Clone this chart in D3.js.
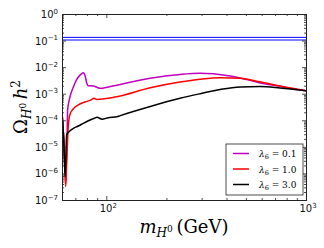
<!DOCTYPE html>
<html>
<head>
<meta charset="utf-8">
<script src="https://cdn.jsdelivr.net/npm/d3@7"></script>
<style>
  body { margin: 0; background: #fff; }
  svg { display: block; }
</style>
</head>
<body>
<script>
var width = 324;
var height = 248;
var plot = {left: 62, top: 14, right: 306, bottom: 200};

// relic density curves: [mass GeV, Omega h^2]
var lam01 = [[60.2, 1.5e-4], [61.2, 2e-5], [62.2, 1.5e-6], [62.6, 4e-7], [63.2, 4e-6], [63.7, 4e-5],
    [64.0, 2.4e-4], [65.8, 7.7e-4], [68.4, 1.8e-3], [71.0, 3.4e-3], [73.9, 5.0e-3], [76.7, 6.2e-3],
    [78.2, 5.0e-3], [79.7, 2.6e-3], [81.3, 2.0e-3], [86.1, 1.95e-3], [89.8, 1.74e-3], [93.3, 1.6e-3],
    [102.3, 1.8e-3], [113, 2.1e-3], [166, 3.8e-3], [234, 5.3e-3], [295, 5.9e-3], [343, 5.6e-3],
    [417, 4.6e-3], [505, 3.4e-3], [610, 2.4e-3], [741, 1.9e-3], [861, 1.5e-3], [1000, 1.3e-3]];
var lam10 = [[60.2, 1.4e-4], [61.2, 2e-5], [62.0, 1.5e-6], [62.6, 3.2e-7], [63.3, 2.5e-6], [64.6, 7e-5],
    [65.8, 1.7e-4], [68.4, 2.7e-4], [72.4, 3.8e-4], [78.2, 4.9e-4], [84.4, 6.0e-4], [86.6, 6.8e-4],
    [90, 6.1e-4], [93.3, 6.2e-4], [102.3, 6.7e-4], [113, 7.7e-4], [166, 1.67e-3], [234, 2.75e-3],
    [295, 3.5e-3], [372, 4.0e-3], [468, 3.8e-3], [589, 2.8e-3], [741, 1.95e-3], [1000, 1.3e-3]];
var lam30 = [[60.2, 1.3e-4], [61.2, 2e-5], [62.2, 7.4e-7], [63.3, 2.8e-5], [64.0, 3.3e-5], [65, 3.7e-5],
    [68.4, 5.0e-5], [72.4, 6.1e-5], [76.7, 7.7e-5], [81.3, 9.6e-5], [87.1, 1.19e-4], [89.8, 1.29e-4],
    [95.2, 1.1e-4], [102.3, 1.25e-4], [113, 1.36e-4], [117.5, 1.5e-4], [166, 3.3e-4], [234, 6.7e-4],
    [295, 1.0e-3], [372, 1.45e-3], [468, 1.8e-3], [589, 1.85e-3], [741, 1.64e-3], [1000, 1.3e-3]];

// observed relic density band
var bandValues = [0.105, 0.132];

var seriesNames = ['\u03bb6 = 0.1', '\u03bb6 = 1.0', '\u03bb6 = 3.0'];
var seriesValues = [lam01, lam10, lam30];
var seriesColors = ['#bf00bf', '#ff0000', '#000000'];

var yMajor = [1e-7, 1e-6, 1e-5, 1e-4, 1e-3, 1e-2, 1e-1, 1];
var yExp = ['\u22127', '\u22126', '\u22125', '\u22124', '\u22123', '\u22122', '\u22121', '0'];
var xMajor = [100, 1000];
var xExp = ['2', '3'];

var xScale = d3.scaleLog()
    .domain([60, 1000])
    .range([plot.left, plot.right]);
var yScale = d3.scaleLog()
    .domain([1e-7, 1])
    .range([plot.bottom, plot.top]);

var yMinor = [];
for (let d = -7; d < 0; d++) {
    for (let k = 2; k <= 9; k++) yMinor.push(k * Math.pow(10, d));
}
var xMinor = [60, 70, 80, 90, 200, 300, 400, 500, 600, 700, 800, 900];

let svg = d3.select('body')
    .append('svg')
        .attr('width', width)
        .attr('height', height);

svg.append('defs').append('clipPath')
    .attr('id', 'clip')
    .append('rect')
        .attr('x', plot.left)
        .attr('y', plot.top)
        .attr('width', plot.right - plot.left)
        .attr('height', plot.bottom - plot.top);

// blue lines
svg.append('g').selectAll('line')
    .data(bandValues)
    .enter().append('line')
        .attr('x1', plot.left)
        .attr('x2', plot.right)
        .attr('y1', d => yScale(d))
        .attr('y2', d => yScale(d))
        .attr('stroke', '#0000ff')
        .attr('stroke-width', 1);

var line = d3.line()
    .x(d => xScale(d[0]))
    .y(d => yScale(d[1]))
    .curve(d3.curveMonotoneX);

svg.append('g')
    .attr('clip-path', 'url(#clip)')
    .selectAll('path')
    .data(seriesValues)
    .enter().append('path')
        .attr('fill', 'none')
        .attr('stroke', (d, i) => seriesColors[i])
        .attr('stroke-width', 1.5)
        .attr('stroke-linejoin', 'round')
        .attr('d', line);

// axes, ticks pointing inward on all four sides
function addAxis(axisFn, scale, values, size, tx, ty) {
    var g = svg.append('g')
        .attr('transform', 'translate(' + tx + ',' + ty + ')')
        .call(axisFn(scale).tickValues(values).tickSize(size).tickFormat(''));
    g.select('.domain').attr('stroke', '#222').attr('stroke-width', 1);
    g.selectAll('.tick line').attr('stroke', '#222').attr('stroke-width', 0.8);
    return g;
}
addAxis(d3.axisLeft, yScale, yMajor, -4, plot.left, 0);
addAxis(d3.axisLeft, yScale, yMinor, -2, plot.left, 0);
addAxis(d3.axisRight, yScale, yMajor, -4, plot.right, 0);
addAxis(d3.axisRight, yScale, yMinor, -2, plot.right, 0);
addAxis(d3.axisBottom, xScale, xMajor, -4, 0, plot.bottom);
addAxis(d3.axisBottom, xScale, xMinor, -2, 0, plot.bottom);
addAxis(d3.axisTop, xScale, xMajor, -4, 0, plot.top);
addAxis(d3.axisTop, xScale, xMinor, -2, 0, plot.top);

// tick labels as 10^n
var yLab = svg.append('g').selectAll('text')
    .data(yMajor)
    .enter().append('text')
        .attr('x', plot.left - 4)
        .attr('y', d => yScale(d) + 4)
        .attr('text-anchor', 'end')
        .style('font-family', 'DejaVu Sans')
        .style('font-size', '10px')
        .style('fill', '#111');
yLab.append('tspan').text('10');
yLab.append('tspan')
    .attr('dy', -4.5)
    .style('font-size', '7px')
    .text((d, i) => yExp[i]);

var xLab = svg.append('g').selectAll('text')
    .data(xMajor)
    .enter().append('text')
        .attr('x', d => xScale(d) + 2)
        .attr('y', plot.bottom + 12)
        .attr('text-anchor', 'middle')
        .style('font-family', 'DejaVu Sans')
        .style('font-size', '10px')
        .style('fill', '#111');
xLab.append('tspan').text('10');
xLab.append('tspan')
    .attr('dy', -4.5)
    .style('font-size', '7px')
    .text((d, i) => xExp[i]);

// axis titles
var serif = 'DejaVu Serif';
var xt = svg.append('text')
    .attr('x', (plot.left + plot.right) / 2)
    .attr('y', 233)
    .attr('text-anchor', 'middle')
    .style('font-family', serif)
    .style('font-size', '18px');
xt.append('tspan').style('font-style', 'italic').text('m');
xt.append('tspan').attr('dy', 4).style('font-style', 'italic').style('font-size', '12px').text('H');
xt.append('tspan').attr('dy', -5.5).style('font-size', '9px').text('0');
xt.append('tspan').attr('dy', 1.5).text('\u2009(GeV)');

var yt = svg.append('text')
    .attr('transform', 'translate(27,' + ((plot.top + plot.bottom) / 2) + ') rotate(-90)')
    .attr('text-anchor', 'middle')
    .style('font-family', serif)
    .style('font-size', '18px');
yt.append('tspan').text('\u03a9');
yt.append('tspan').attr('dy', 4).style('font-style', 'italic').style('font-size', '12px').text('H');
yt.append('tspan').attr('dy', -5.5).style('font-size', '9px').text('0');
yt.append('tspan').attr('dy', 1.5).style('font-style', 'italic').text('\u2009h');
yt.append('tspan').attr('dy', -7.5).style('font-size', '12px').text('2');

// legend
var legend = svg.append('g').attr('transform', 'translate(226,144)');
legend.append('rect')
    .attr('width', 77)
    .attr('height', 51)
    .attr('fill', '#fff')
    .attr('stroke', '#222')
    .attr('stroke-width', 0.8);
var item = legend.selectAll('.item')
    .data(seriesNames)
    .enter().append('g')
        .attr('class', 'item')
        .attr('transform', (d, i) => 'translate(0,' + (9.5 + i * 15.5) + ')');
item.append('line')
    .attr('x1', 7)
    .attr('x2', 23)
    .attr('stroke', (d, i) => seriesColors[i])
    .attr('stroke-width', 1.5);
var lt = item.append('text')
    .attr('x', 33)
    .attr('y', 3.5)
    .style('font-family', serif)
    .style('font-size', '9px');
lt.append('tspan').style('font-style', 'italic').text('\u03bb');
lt.append('tspan').attr('dy', 2).style('font-size', '6.5px').text('6');
lt.append('tspan').attr('dy', -2).text(d => ' = ' + d.split('= ')[1]);
</script>
</body>
</html>
